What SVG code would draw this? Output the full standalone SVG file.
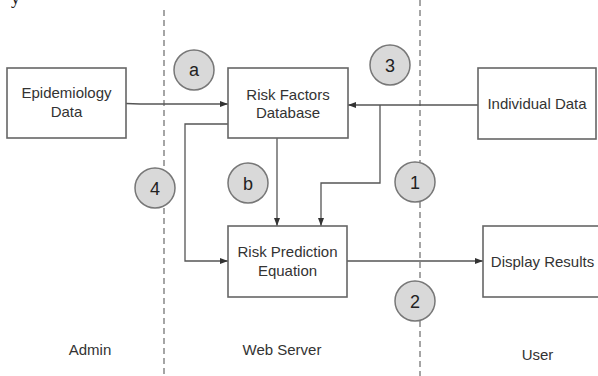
<svg xmlns="http://www.w3.org/2000/svg" width="598" height="376" viewBox="0 0 598 376">
<defs>
<marker id="arr" markerWidth="8" markerHeight="6" refX="8" refY="3" orient="auto" markerUnits="userSpaceOnUse">
<path d="M0,0 L8,3 L0,6 Z" fill="#333"/>
</marker>
<style>
.box{fill:#fff;stroke:#666;stroke-width:1.6}
.t{font-family:"Liberation Sans",Arial,sans-serif;font-size:15px;fill:#333;text-anchor:middle}
.c{fill:#d9d9d9;stroke:#777;stroke-width:1.5}
.ct{font-family:"Liberation Sans",Arial,sans-serif;font-size:18px;fill:#222;text-anchor:middle}
.dash{stroke:#888;stroke-width:1.5;stroke-dasharray:6 4;fill:none}
.ln{stroke:#555;stroke-width:1.3;fill:none}
</style>
</defs>
<rect width="598" height="376" fill="#fff"/>
<text x="11" y="4" font-family="Liberation Serif,serif" font-size="18" fill="#222">y</text>
<g id="lanes">
<line class="dash" x1="164" y1="10" x2="164" y2="168"/>
<line class="dash" x1="164" y1="208" x2="164" y2="376"/>
<line class="dash" x1="420" y1="0" x2="420" y2="162"/>
<line class="dash" x1="420" y1="202" x2="420" y2="281"/>
<line class="dash" x1="420" y1="321" x2="420" y2="376"/>
</g>
<g id="connectors">
<path class="ln" d="M126,103.5 L140,104 L228,104" marker-end="url(#arr)"/>
<path class="ln" d="M478,105 L348,105" marker-end="url(#arr)"/>
<path class="ln" d="M380,105 L380,183 L321,183 L321,226" marker-end="url(#arr)"/>
<path class="ln" d="M277,138 L277,226" marker-end="url(#arr)"/>
<path class="ln" d="M228,124 L185,124 L185,261 L228,261" marker-end="url(#arr)"/>
<path class="ln" d="M347,261 L483,261" marker-end="url(#arr)"/>
</g>
<g id="epidemiology">
<rect class="box" x="7" y="68" width="119" height="70"/>
<text class="t" x="66.5" y="98">Epidemiology</text>
<text class="t" x="66.5" y="117">Data</text>
</g>
<g id="riskfactors">
<rect class="box" x="228" y="68" width="120" height="70"/>
<text class="t" x="288" y="100">Risk Factors</text>
<text class="t" x="288" y="118">Database</text>
</g>
<g id="individual">
<rect class="box" x="478" y="68" width="118" height="71"/>
<text class="t" x="537" y="109">Individual Data</text>
</g>
<g id="riskprediction">
<rect class="box" x="228" y="226" width="119" height="71"/>
<text class="t" x="287.5" y="257">Risk Prediction</text>
<text class="t" x="287.5" y="276">Equation</text>
</g>
<g id="display">
<rect class="box" x="483" y="226" width="120" height="71"/>
<text class="t" x="542.5" y="267">Display Results</text>
</g>
<g id="circle-a"><circle class="c" cx="194" cy="70" r="20"/><text class="ct" x="194" y="76">a</text></g>
<g id="circle-3"><circle class="c" cx="390" cy="65" r="20"/><text class="ct" x="390" y="71.5">3</text></g>
<g id="circle-4"><circle class="c" cx="155" cy="188" r="20"/><text class="ct" x="155" y="194.5">4</text></g>
<g id="circle-b"><circle class="c" cx="248" cy="183" r="20"/><text class="ct" x="248" y="189.5">b</text></g>
<g id="circle-1"><circle class="c" cx="415" cy="182" r="20"/><text class="ct" x="415" y="188.5">1</text></g>
<g id="circle-2"><circle class="c" cx="415" cy="301" r="20"/><text class="ct" x="415" y="307.5">2</text></g>
<g id="labels">
<text class="t" x="90" y="355">Admin</text>
<text class="t" x="282" y="355">Web Server</text>
<text class="t" x="537.5" y="360">User</text>
</g>
</svg>
